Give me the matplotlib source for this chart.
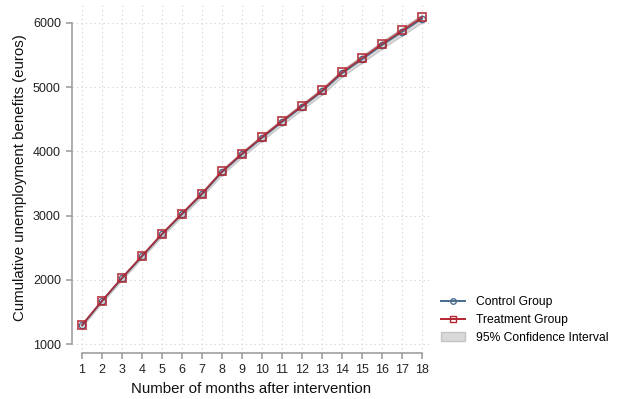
import numpy as np
import matplotlib
matplotlib.use("Agg")
import matplotlib.pyplot as plt
from matplotlib.patches import Patch
from matplotlib.lines import Line2D

plt.rcParams['font.family'] = ['Liberation Sans', 'DejaVu Sans']

months = np.arange(1, 19)
treatment = [1295, 1673, 2031, 2373, 2715, 3032, 3344, 3690, 3966,
             4224, 4473, 4712, 4950, 5235, 5453, 5676, 5883, 6090]
control = [1290, 1668, 2024, 2365, 2706, 3022, 3333, 3678, 3953,
           4210, 4458, 4696, 4933, 5216, 5433, 5655, 5861, 6067]
ci_lower = [1270, 1645, 2000, 2338, 2676, 2990, 3298, 3640, 3913,
            4168, 4414, 4650, 4885, 5166, 5381, 5601, 5805, 6009]
ci_upper = [1312, 1693, 2050, 2394, 2737, 3056, 3370, 3718, 3995,
            4255, 4505, 4745, 4985, 5270, 5490, 5715, 5925, 6130]

blue = '#4a6d8c'
red = '#b22530'
grey = '#a0a0a0'

fig = plt.figure(figsize=(6.17, 3.99), dpi=100)
ax = fig.add_axes([72 / 617, 46 / 399, 358 / 617, 350 / 399])

ax.fill_between(months, ci_lower, ci_upper, color='#d9d9d9', edgecolor='#c4c4c4',
                linewidth=0.8, zorder=2)
ax.plot(months, control, color=blue, marker='o', markersize=4.5, markerfacecolor='none',
        markeredgecolor=blue, markeredgewidth=1.0, linewidth=1.3, zorder=3)
ax.plot(months, treatment, color=red, marker='s', markersize=5.5, markerfacecolor='none',
        markeredgecolor=red, markeredgewidth=1.3, linewidth=1.3, alpha=0.85, zorder=4)

ax.set_xlim(0.5, 18.4)
ax.set_ylim(860, 6311)
ax.set_xticks(months)
ax.set_yticks([1000, 2000, 3000, 4000, 5000, 6000])
ax.grid(True, color='#d0d0d0', linestyle=(0, (1, 3)), linewidth=0.8)

for side in ['top', 'right']:
    ax.spines[side].set_visible(False)
ax.spines['left'].set_bounds(1000, 6000)
ax.spines['bottom'].set_bounds(1, 18)
for side in ['left', 'bottom']:
    ax.spines[side].set_color(grey)
    ax.spines[side].set_linewidth(1.2)
ax.tick_params(colors=grey, length=4, width=1.2, labelsize=9, labelcolor='#222222', pad=4)

ax.set_xlabel('Number of months after intervention', fontsize=10.8, color='#111111', labelpad=4)
ax.set_ylabel('Cumulative unemployment benefits (euros)', fontsize=10.8, color='#111111', labelpad=4)

handles = [
    Line2D([], [], color=blue, marker='o', markersize=4, markerfacecolor='none', linewidth=1.4),
    Line2D([], [], color=red, marker='s', markersize=4.5, markerfacecolor='none', linewidth=1.4),
    Patch(facecolor='#d9d9d9', edgecolor='#c4c4c4'),
]
labels = ['Control Group', 'Treatment Group', '95% Confidence Interval']
fig.legend(handles, labels, loc='upper left', bbox_to_anchor=(436 / 617, 1 - 291 / 399),
           frameon=False, fontsize=8.7, handlelength=2.0, handletextpad=0.9,
           labelspacing=0.5, borderaxespad=0)

fig.savefig('out.png', dpi=100)
